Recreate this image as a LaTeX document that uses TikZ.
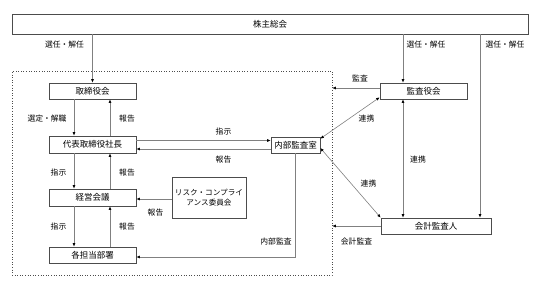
\documentclass[tikz,border=0pt]{standalone}
\usepackage{fontspec}
\setmainfont{Noto Sans CJK JP}
\usetikzlibrary{arrows.meta}

\begin{document}
\begin{tikzpicture}[x=1pt,y=-1pt,
  box/.style={draw=black!70, line width=0.7pt, inner sep=0pt, minimum height=16pt, font=\fontsize{8.5}{10}\selectfont},
  lbl/.style={inner sep=0pt, font=\fontsize{7.8}{9}\selectfont},
  conn/.style={draw=black!50, line width=0.6pt, -{Latex[length=3.5pt,width=3pt,color=black]}},
  both/.style={conn, {Latex[length=3.5pt,width=3pt,color=black]}-{Latex[length=3.5pt,width=3pt,color=black]}}]

\useasboundingbox (0,0) rectangle (541,289);

% Dotted frame round the company side
\node[draw=black!70, dotted, line width=0.6pt, minimum width=320pt, minimum height=204pt, inner sep=0pt] (group) at (172,173) {};

% Boxes
\node[box, minimum width=516pt, minimum height=20pt] (meeting) at (270,24) {株主総会};
\node[box, minimum width=87pt] (board) at (92.5,91) {取締役会};
\node[box, minimum width=87pt, minimum height=17pt] (ceo) at (92.5,144.5) {代表取締役社長};
\node[box, minimum width=87pt, minimum height=17pt] (mgmt) at (92.5,197.5) {経営会議};
\node[box, minimum width=87pt] (depts) at (92.5,255) {各担当部署};
\node[box, minimum width=74pt, minimum height=41pt, align=center, font=\fontsize{7.6}{10.5}\selectfont] (risk) at (209,197.5) {リスク・コンプライ\\アンス委員会};
\node[box, minimum width=49pt] (audit) at (295.5,145) {内部監査室};
\node[box, minimum width=87pt] (kansa) at (423.5,91) {監査役会};
\node[box, minimum width=110pt] (acct) at (436,226) {会計監査人};

% Appointment lines from the meeting
\draw[conn] (board.north |- meeting.south) -- (board.north);
\draw[conn] ([xshift=-20.5pt]kansa.north |- meeting.south) -- ([xshift=-20.5pt]kansa.north);
\draw[conn] ([xshift=44pt]acct.north |- meeting.south) -- ([xshift=44pt]acct.north);
\node[lbl] (l1) at (64.5,45) {選任・解任};
\node[lbl] (l2) at (426,45) {選任・解任};
\node[lbl] (l3) at (505,45) {選任・解任};

% Left column
\draw[conn] ([xshift=-18.5pt]board.south) -- ([xshift=-18.5pt]ceo.north);
\draw[conn] ([xshift=17.5pt]ceo.north) -- ([xshift=17.5pt]board.south);
\draw[conn] ([xshift=-18.5pt]ceo.south) -- ([xshift=-18.5pt]mgmt.north);
\draw[conn] ([xshift=17.5pt]mgmt.north) -- ([xshift=17.5pt]ceo.south);
\draw[conn] ([xshift=-18.5pt]mgmt.south) -- ([xshift=-18.5pt]depts.north);
\draw[conn] ([xshift=17.5pt]depts.north) -- ([xshift=17.5pt]mgmt.south);
\node[lbl] (l4) at (47,119) {選定・解職};
\node[lbl] (l5) at (127,119) {報告};
\node[lbl] (l6) at (58.5,173) {指示};
\node[lbl] (l7) at (127,173) {報告};
\node[lbl] (l8) at (58.5,227) {指示};
\node[lbl] (l9) at (127,227) {報告};

% Risk committee
\draw[conn] ([yshift=-1.5pt]risk.west) -- ([yshift=-1.5pt]risk.west -| mgmt.east);
\node[lbl] (l10) at (155.5,213) {報告};

% Internal audit
\draw[conn] ([yshift=4pt]ceo.east) -- ([yshift=4pt]ceo.east -| audit.west);
\draw[conn] ([yshift=-4pt]audit.west) -- ([yshift=-4pt]audit.west -| ceo.east);
\node[lbl] (l11) at (223.5,132) {指示};
\node[lbl] (l12) at (223.5,160) {報告};
\draw[conn] (audit.south) |- ([yshift=-2pt]depts.east);
\node[lbl] (l13) at (276,242) {内部監査};

% Auditors
\draw[conn] ([yshift=3pt]kansa.west) -- ([yshift=3pt]kansa.west -| group.east);
\node[lbl] (l14) at (360,78) {監査};
\draw[conn] (acct.west) -- (acct.west -| group.east);
\node[lbl] (l15) at (356.5,242) {会計監査};
\draw[both] ([yshift=2pt]kansa.south west) -- ([yshift=-2pt]audit.north east);
\node[lbl] (l16) at (366.5,119) {連携};
\draw[both] ([yshift=-3pt]audit.east) -- (acct.north west);
\node[lbl] (l17) at (368.5,184) {連携};
\draw[both] ([xshift=-20.5pt]kansa.south) -- ([xshift=-20.5pt]kansa.south |- acct.north);
\node[lbl] (l18) at (418,160) {連携};

\end{tikzpicture}
\end{document}
